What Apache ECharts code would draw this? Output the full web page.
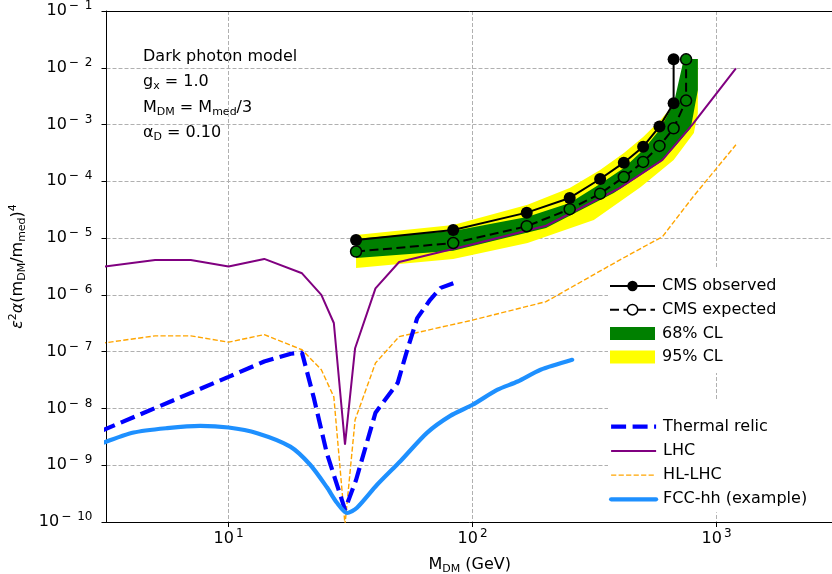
<!DOCTYPE html>
<html>
<head>
<meta charset="utf-8">
<script src="https://cdn.jsdelivr.net/npm/echarts@6/dist/echarts.min.js"></script>
<style>
  html, body { margin: 0; padding: 0; background: #fff; }
  #chart { width: 832px; height: 574px; }
</style>
</head>
<body>
<div id="chart"></div>
<script>
// ---- CMS observed / expected limits (M_DM in GeV) ----
const cmsObsMass = [33.3, 83.3, 166.7, 250, 333.3, 416.7, 500, 583.3, 666.7, 666.7];
const cmsObs = [9.3e-6, 1.39e-5, 2.81e-5, 5.1e-5, 1.1e-4, 2.13e-4, 4.08e-4, 9.2e-4, 2.37e-3, 1.41e-2];
const cmsExpMass = [33.3, 83.3, 166.7, 250, 333.3, 416.7, 500, 583.3, 666.7, 750, 750];
const cmsExp = [5.8e-6, 8.2e-6, 1.62e-5, 3.23e-5, 6.07e-5, 1.19e-4, 2.2e-4, 4.2e-4, 8.6e-4, 2.64e-3, 1.41e-2];

// ---- 68% / 95% CL bands: upper and lower edges ----
const band68UpMass = [33.3, 83.3, 167, 250, 333, 417, 500, 583, 667, 734, 838];
const band68Up = [9.7e-6, 1.34e-5, 2.36e-5, 4.17e-5, 9.0e-5, 1.72e-4, 3.57e-4, 8.0e-4, 2.31e-3, 1.43e-2, 1.43e-2];
const band68LoMass = [33.3, 83.3, 200, 379, 590, 667, 784, 838];
const band68Lo = [4.48e-6, 5.96e-6, 1.51e-5, 6.25e-5, 2.2e-4, 3.87e-4, 8.7e-4, 4.06e-3];
const band95UpMass = [33.3, 83.3, 168, 250, 333, 417, 500, 590, 692, 734, 838];
const band95Up = [1.14e-5, 1.71e-5, 3.85e-5, 7.66e-5, 1.59e-4, 3.16e-4, 6.05e-4, 1.21e-3, 2.71e-3, 1.43e-2, 1.43e-2];
const band95LoMass = [33.3, 83.3, 168, 314, 489, 667, 807, 838];
const band95Lo = [2.99e-6, 4.3e-6, 8.2e-6, 2.09e-5, 7.96e-5, 2.38e-4, 7.1e-4, 1.6e-3];

// ---- Thermal relic ----
const relicMass = [3, 10, 14, 18, 20, 22.3, 25.3, 30, 33.3, 40, 49.3, 54, 59.3, 67, 74, 83.4];
const relic = [4.0e-9, 3.6e-8, 6.7e-8, 9.2e-8, 9.6e-8, 1.6e-8, 1.6e-9, 1.65e-10, 5.5e-10, 8.4e-9, 2.8e-8, 1.08e-7, 3.9e-7, 8.2e-7, 1.33e-6, 1.6e-6];

// ---- LHC and HL-LHC projections ----
const lhcMass = [3, 5, 7, 10, 14, 20, 24, 27, 30, 33, 40, 50, 100, 200, 400, 600, 800, 1200];
const lhc = [3.1e-6, 4.1e-6, 4.1e-6, 3.15e-6, 4.3e-6, 2.4e-6, 1.0e-6, 3.2e-7, 2.3e-9, 1.15e-7, 1.3e-6, 3.8e-6, 7.8e-6, 1.65e-5, 7.6e-5, 2.38e-4, 1.03e-3, 9.8e-3];
const hlMass = [3, 5, 7, 10, 14, 20, 24, 27, 30, 33, 40, 50, 100, 200, 400, 600, 800, 1200];
const hl = [1.4e-7, 1.9e-7, 1.9e-7, 1.47e-7, 2.0e-7, 1.08e-7, 4.8e-8, 1.6e-8, 9e-11, 6.3e-9, 6.3e-8, 1.84e-7, 3.6e-7, 7.6e-7, 4.1e-6, 1.06e-5, 5.3e-5, 4.4e-4];

// ---- FCC-hh (example) ----
const fccMass = [3, 4.08, 5.6, 7.65, 10, 13.1, 17.9, 21.6, 25.3, 27.8, 30.6, 33.6, 40.6, 50.7, 65, 81, 100, 126, 153, 190, 256];
const fcc = [2.4e-9, 3.76e-9, 4.5e-9, 4.94e-9, 4.62e-9, 3.67e-9, 2.13e-9, 1.02e-9, 4.08e-10, 2.18e-10, 1.44e-10, 1.78e-10, 4.52e-10, 1.19e-9, 3.72e-9, 7.41e-9, 1.16e-8, 2.12e-8, 2.98e-8, 4.79e-8, 7.18e-8];

const FONT = 'DejaVu Sans';
const zip = (xs, ys) => xs.map((x, i) => [x, ys[i]]);

const richBase = {
  n:   { fontSize: 16, fontFamily: FONT, color: '#000', fill: '#000', lineHeight: 20 },
  i:   { fontSize: 16, fontFamily: FONT, color: '#000', fill: '#000', lineHeight: 20, fontStyle: 'italic' },
  sub: { fontSize: 11, fontFamily: FONT, color: '#000', fill: '#000', lineHeight: 12, verticalAlign: 'bottom' },
  sup: { fontSize: 11, fontFamily: FONT, color: '#000', fill: '#000', lineHeight: 12, verticalAlign: 'top' }
};
const tickRich = {
  b: { fontSize: 16, fontFamily: FONT, color: '#000', lineHeight: 22 },
  s: { fontSize: 12, fontFamily: FONT, color: '#000', lineHeight: 14, verticalAlign: 'top', padding: [0, 0, 0, 2] }
};
function powLabel(v) {
  const e = Math.log10(v);
  const r = Math.round(e);
  if (Math.abs(e - r) > 1e-6) return '';
  const exp = r < 0 ? '\u2212\u2002' + (-r) : String(r);
  return '{b|10}{s|' + exp + '}';
}

// Confidence band drawn as one filled polygon through the axis scales
function bandSeries(name, upM, up, loM, lo, color, z) {
  return {
    type: 'custom', name: name, z: z, silent: true,
    coordinateSystem: 'cartesian2d', xAxisIndex: 0, yAxisIndex: 0,
    data: zip(upM, up),
    encode: { x: 0, y: 1 },
    itemStyle: { color: color },
    renderItem: function (params, api) {
      if (params.dataIndex !== 0) return null;
      const pts = [];
      for (let i = 0; i < upM.length; i++) pts.push(api.coord([upM[i], up[i]]));
      for (let i = loM.length - 1; i >= 0; i--) pts.push(api.coord([loM[i], lo[i]]));
      return { type: 'polygon', shape: { points: pts }, style: { fill: color } };
    }
  };
}

const gridLine = { show: true, lineStyle: { color: '#b0b0b0', width: 1, type: [4, 2] } };
const lineOnly = { opacity: 0 };

const option = {
  animation: false,
  backgroundColor: '#fff',
  textStyle: { fontFamily: FONT },
  grid: { left: 106.5, right: -1, top: 11, bottom: 52, containLabel: false, outerBoundsMode: 'none' },
  xAxis: [{
    type: 'log', logBase: 10, min: 3.16, max: 3000, position: 'bottom',
    axisLine: { show: true, onZero: false, lineStyle: { color: '#000', width: 1 } },
    axisTick: { show: true, inside: false, length: 5, lineStyle: { color: '#000', width: 1 } },
    minorTick: { show: false },
    axisLabel: { formatter: powLabel, rich: tickRich, margin: 6, showMinLabel: false, showMaxLabel: false },
    splitLine: gridLine,
    name: '{n|M}{sub|DM}{n| (GeV)}',
    nameLocation: 'middle', nameGap: 33,
    nameTextStyle: { rich: richBase }
  }, {
    type: 'log', logBase: 10, min: 3.16, max: 3000, position: 'top',
    axisLine: { show: true, onZero: false, lineStyle: { color: '#000', width: 1 } },
    axisTick: { show: false }, axisLabel: { show: false }, splitLine: { show: false }
  }],
  yAxis: [{
    type: 'log', logBase: 10, min: 1e-10, max: 1e-1, splitNumber: 9,
    axisLine: { show: true, onZero: false, lineStyle: { color: '#000', width: 1 } },
    axisTick: { show: true, inside: false, length: 5, lineStyle: { color: '#000', width: 1 } },
    minorTick: { show: false },
    axisLabel: { formatter: powLabel, rich: tickRich, margin: 14 },
    splitLine: gridLine,
    name: '{i|\u03b5}{sup|2}{i|\u03b1}{n|(m}{sub|DM}{n|/m}{sub|med}{n|)}{sup|4}',
    nameLocation: 'middle', nameGap: 62, nameRotate: 90,
    nameTextStyle: { rich: richBase }
  }],
  legend: [{
    orient: 'vertical', left: 608, top: 267,
    padding: [11, 60, 8, 1],
    backgroundColor: '#fff',
    itemWidth: 45, itemHeight: 13, itemGap: 7.7,
    selectedMode: false,
    textStyle: { fontSize: 16, fontFamily: FONT, color: '#000', lineHeight: 16, padding: [0, 0, 0, 2] },
    lineStyle: { width: 'inherit' },
    data: [
      { name: 'CMS observed' },
      { name: 'CMS expected', itemStyle: { color: '#fff', borderColor: '#000', borderWidth: 1.5 } },
      { name: '68% CL', icon: 'rect' },
      { name: '95% CL', icon: 'rect' }
    ]
  }, {
    orient: 'vertical', left: 608, top: 400,
    padding: [18.7, 35, 5, 1],
    backgroundColor: '#fff',
    itemWidth: 45, itemHeight: 13, itemGap: 8.2,
    selectedMode: false,
    textStyle: { fontSize: 16, fontFamily: FONT, color: '#000', lineHeight: 16, padding: [0, 0, 0, 2] },
    lineStyle: { width: 'inherit' },
    data: [
      { name: 'Thermal relic', itemStyle: lineOnly },
      { name: 'LHC', itemStyle: lineOnly },
      { name: 'HL-LHC', itemStyle: lineOnly },
      { name: 'FCC-hh (example)', itemStyle: lineOnly }
    ]
  }],
  graphic: [
    { type: 'text', x: 143, y: 57.3, style: { text: '{n|Dark photon model}', rich: richBase, verticalAlign: 'middle' } },
    { type: 'text', x: 143, y: 82, style: { text: '{n|g}{sub|x}{n| = 1.0}', rich: richBase, verticalAlign: 'middle' } },
    { type: 'text', x: 143, y: 108, style: { text: '{n|M}{sub|DM}{n| = M}{sub|med}{n|/3}', rich: richBase, verticalAlign: 'middle' } },
    { type: 'text', x: 143, y: 133, style: { text: '{n|\u03b1}{sub|D}{n| = 0.10}', rich: richBase, verticalAlign: 'middle' } }
  ],
  series: [
    bandSeries('95% CL', band95UpMass, band95Up, band95LoMass, band95Lo, '#ffff00', 1),
    bandSeries('68% CL', band68UpMass, band68Up, band68LoMass, band68Lo, '#008000', 1.1),
    {
      type: 'line', name: 'LHC', z: 2, symbol: 'none',
      data: zip(lhcMass, lhc),
      lineStyle: { color: '#800080', width: 2 }, itemStyle: { color: '#800080' }
    },
    {
      type: 'line', name: 'HL-LHC', z: 2, symbol: 'none',
      data: zip(hlMass, hl),
      lineStyle: { color: '#ffa500', width: 1.4, type: [5.2, 2.3] }, itemStyle: { color: '#ffa500' }
    },
    {
      type: 'line', name: 'Thermal relic', z: 2, symbol: 'none',
      data: zip(relicMass, relic),
      lineStyle: { color: '#0000ff', width: 4.2, type: [15, 6.5] }, itemStyle: { color: '#0000ff' }
    },
    {
      type: 'line', name: 'FCC-hh (example)', z: 2, symbol: 'none', smooth: 0.25,
      data: zip(fccMass, fcc),
      lineStyle: { color: '#1e90ff', width: 4.2, cap: 'round' }, itemStyle: { color: '#1e90ff' }
    },
    {
      type: 'line', name: 'CMS expected', z: 3, symbol: 'circle', symbolSize: 11,
      data: zip(cmsExpMass, cmsExp),
      lineStyle: { color: '#000', width: 2, type: [9, 4.5] },
      itemStyle: { color: '#008000', borderColor: '#000', borderWidth: 1.5 }
    },
    {
      type: 'line', name: 'CMS observed', z: 4, symbol: 'circle', symbolSize: 12,
      data: zip(cmsObsMass, cmsObs),
      lineStyle: { color: '#000', width: 2 },
      itemStyle: { color: '#000', borderColor: '#000', borderWidth: 0 }
    }
  ]
};

const chart = echarts.init(document.getElementById('chart'), null, { renderer: 'canvas' });
chart.setOption(option);
</script>
</body>
</html>
